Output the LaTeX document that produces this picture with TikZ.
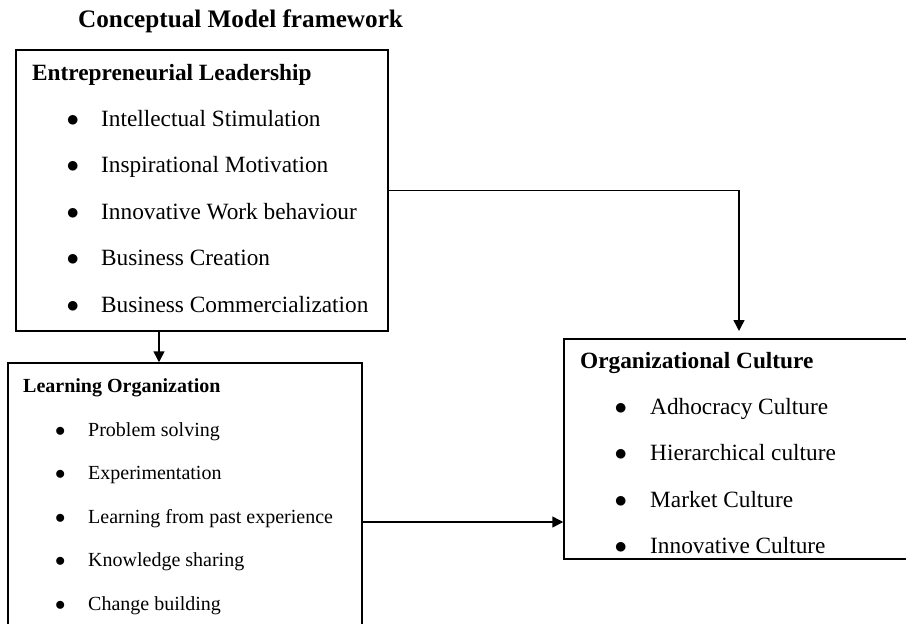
\documentclass[tikz,border=0pt]{standalone}
\usepackage{fontspec}
\setmainfont{Liberation Serif}
\usetikzlibrary{arrows.meta}

\begin{document}
\begin{tikzpicture}[x=1pt,y=-1pt,
    box/.style={draw, line width=1.5pt, rectangle, inner sep=0pt},
    conn/.style={line width=1.5pt, -{Triangle[length=11pt,width=11pt]}},
    item/.style={anchor=base west, inner sep=0pt}]
\def \big {\fontsize{23.3}{28}\selectfont}
\def \small {\fontsize{20}{24}\selectfont}

\useasboundingbox (0,0) rectangle (906,624);
\clip (0,0) rectangle (906,624);

\node[item, font=\fontsize{25.2}{30}\selectfont\bfseries] (title) at (78,27) {Conceptual Model framework};

% draw the boxes
\node[box, minimum width=372pt, minimum height=281pt] (el) at (202,190.5) {};
\node[box, minimum width=354pt, minimum height=287pt] (lo) at (185,506.5) {};
\node[box, minimum width=356pt, minimum height=220pt] (oc) at (742,449) {};

% entrepreneurial leadership
\node[item, font=\big\bfseries] (elh) at (32,80) {Entrepreneurial Leadership};
\foreach \t [count=\i from 0] in {Intellectual Stimulation, Inspirational Motivation,
        Innovative Work behaviour, Business Creation, Business Commercialization}
    \node[item, font=\big] (el\i) at (66.5,126+\i*46.5) {\makebox[34.5pt][l]{$\bullet$}\t};

% learning organization
\node[item, font=\small\bfseries] (loh) at (23,392) {Learning Organization};
\foreach \t [count=\i from 0] in {Problem solving, Experimentation,
        Learning from past experience, Knowledge sharing, Change building}
    \node[item, font=\small] (lo\i) at (55,436+\i*43.6) {\makebox[33pt][l]{$\bullet$}\t};

% organizational culture
\node[item, font=\big\bfseries] (och) at (580,368) {Organizational Culture};
\foreach \t [count=\i from 0] in {Adhocracy Culture, Hierarchical culture,
        Market Culture, Innovative Culture}
    \node[item, font=\big] (oc\i) at (614.5,414+\i*46.5) {\makebox[35.5pt][l]{$\bullet$}\t};

% connectors
\coordinate (octop) at (739,331);
\draw[conn] (el.east) -| (octop);
\draw[conn] (el.south -| 159,0) -- (lo.north -| 159,0);
\draw[conn] (lo.east |- 0,522) -- (oc.west |- 0,522);

\end{tikzpicture}
\end{document}
